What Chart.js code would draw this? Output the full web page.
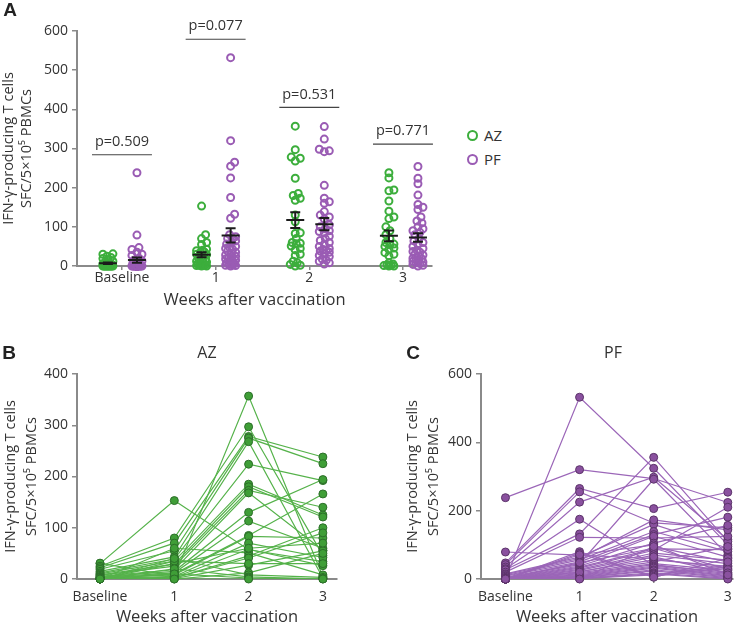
<!DOCTYPE html>
<html>
<head>
<meta charset="utf-8">
<script src="https://cdn.jsdelivr.net/npm/chart.js@4.4.1/dist/chart.umd.min.js"></script>
<style>
  body { margin: 0; background: #fff; width: 744px; height: 627px; position: relative; overflow: hidden; font-family: "Open Sans", sans-serif; color: #333; }
  canvas { position: absolute; }
  .txt { position: absolute; transform: translate(-50%, -50%); white-space: nowrap; line-height: 1; }
  .panel { font-family: "Liberation Sans", Arial, sans-serif; font-weight: bold; font-size: 19px; color: #222; }
  .head { font-size: 16px; }
  .leg { position: absolute; font-size: 15px; line-height: 1; display: flex; align-items: center; }
  .ring { display: inline-block; width: 7px; height: 7px; border: 2.5px solid; border-radius: 50%; margin-right: 6px; }
</style>
</head>
<body>
<canvas id="chartA" width="440" height="310" style="left:0;top:0"></canvas>
<canvas id="chartB" width="370" height="297" style="left:0;top:330px"></canvas>
<canvas id="chartC" width="374" height="297" style="left:370px;top:330px"></canvas>

<div class="txt panel" style="left:10px;top:9px">A</div>
<div class="txt panel" style="left:9px;top:352px">B</div>
<div class="txt panel" style="left:413px;top:352px">C</div>
<div class="txt head" style="left:207px;top:352px">AZ</div>
<div class="txt head" style="left:613px;top:352px">PF</div>

<div class="leg" style="left:467px;top:128px"><span class="ring" style="border-color:#3cae3c"></span>AZ</div>
<div class="leg" style="left:467px;top:152px"><span class="ring" style="border-color:#9a5cb4"></span>PF</div>

<script>
// semaines
const weekLabels = ["Baseline", "1", "2", "3"];

// AZ, un sujet par index
const azBaseline = [30, 31, 25, 22, 19, 15, 12, 10, 8, 7, 5, 4, 3, 2, 2, 1, 1, 0, 0, 0, 0, 0, 0, 0, 0, 0, 0, 0];
const azWeek1 = [153, 5, 80, 70, 55, 43, 39, 35, 29, 25, 18, 15, 12, 10, 8, 5, 3, 60, 2, 2, 1, 0, 30, 35, 40, 20, 10, 0];
const azWeek2 = [57, 357, 297, 278, 275, 268, 224, 185, 180, 173, 168, 130, 113, 85, 83, 70, 58, 51, 45, 41, 27, 12, 60, 30, 8, 4, 2, 0];
const azWeek3 = [34, 5, 46, 238, 225, 2, 192, 125, 121, 140, 56, 194, 60, 166, 80, 42, 26, 8, 100, 90, 55, 50, 70, 30, 3, 0, 1, 0];

// PF
const pfBaseline = [238, 0, 79, 47, 42, 35, 30, 27, 20, 15, 13, 10, 8, 5, 3, 2, 1, 0, 0, 0, 0, 0, 0, 0, 0, 0, 0, 0, 0, 0, 0, 0, 0, 0, 0, 0, 0, 0];
const pfWeek1 = [320, 532, 70, 265, 255, 225, 175, 132, 122, 64, 60, 56, 50, 45, 42, 38, 35, 32, 28, 25, 22, 18, 15, 12, 10, 8, 6, 5, 4, 3, 2, 1, 80, 75, 48, 20, 71, 0];
const pfWeek2 = [294, 324, 60, 206, 164, 298, 40, 356, 120, 160, 173, 139, 130, 292, 125, 105, 88, 84, 76, 70, 56, 50, 45, 42, 38, 35, 32, 27, 24, 18, 15, 12, 8, 5, 90, 65, 100, 95];
const pfWeek3 = [224, 100, 30, 254, 150, 115, 20, 110, 125, 90, 144, 80, 181, 70, 64, 157, 86, 210, 55, 45, 37, 95, 25, 16, 13, 10, 8, 6, 4, 2, 0, 40, 35, 60, 28, 18, 12, 50];

// p-values et hauteur des crochets
const pLabels = ["p=0.509", "p=0.077", "p=0.531", "p=0.771"];
const pBracketY = [284, 579, 405, 311];

const GREEN = "#3cae3c";
const PURPLE = "#9a5cb4";
const AXIS = "#8a8a8a";
const FONT = '"Open Sans", sans-serif';

Chart.defaults.font.family = FONT;
Chart.defaults.color = "#333";
Chart.defaults.animation = false;

const azWeeks = [azBaseline, azWeek1, azWeek2, azWeek3];
const pfWeeks = [pfBaseline, pfWeek1, pfWeek2, pfWeek3];

// petit essaim pour ecarter les cercles (px)
function swarm(values, center, pxX, pxY) {
  const order = values.map((v, i) => i).sort((a, b) => values[a] - values[b]);
  const offsets = [0];
  for (let k = 1; k <= 5; k++) offsets.push(k, -k);
  const placed = [];
  const out = [];
  order.forEach((i) => {
    const yp = values[i] * pxY;
    let best = 0, bestD = -1;
    for (const o of offsets) {
      let d = Infinity;
      placed.forEach((p) => { d = Math.min(d, Math.hypot(o - p[0], yp - p[1])); });
      if (d >= 5) { best = o; bestD = d; break; }
      if (d > bestD) { bestD = d; best = o; }
    }
    placed.push([best, yp]);
    out[i] = { x: center + best / pxX, y: values[i] };
  });
  return out;
}

function meanSem(arr) {
  const n = arr.length;
  const m = arr.reduce((a, b) => a + b, 0) / n;
  const sd = Math.sqrt(arr.reduce((a, b) => a + (b - m) ** 2, 0) / (n - 1));
  return [m, sd / Math.sqrt(n)];
}

const groups = [];
azWeeks.forEach((arr, w) => groups.push({ values: arr, center: w - 0.15 }));
pfWeeks.forEach((arr, w) => groups.push({ values: arr, center: w + 0.16 }));

const errorBars = {
  id: "errorBars",
  afterDatasetsDraw(chart) {
    const { ctx, scales: { x, y } } = chart;
    ctx.save();
    ctx.strokeStyle = "#1b1b1b";
    ctx.lineWidth = 2;
    groups.forEach((g) => {
      const [m, s] = meanSem(g.values);
      const cx = x.getPixelForValue(g.center);
      const ym = y.getPixelForValue(m);
      const yt = y.getPixelForValue(m + s);
      const yb = y.getPixelForValue(Math.max(m - s, 0));
      ctx.beginPath();
      ctx.moveTo(cx - 9, ym); ctx.lineTo(cx + 9, ym);
      ctx.moveTo(cx, yt); ctx.lineTo(cx, yb);
      ctx.moveTo(cx - 5, yt); ctx.lineTo(cx + 5, yt);
      ctx.moveTo(cx - 5, yb); ctx.lineTo(cx + 5, yb);
      ctx.stroke();
    });
    // crochets + p
    ctx.strokeStyle = "#444";
    ctx.lineWidth = 1.2;
    ctx.fillStyle = "#333";
    ctx.font = "14.5px " + FONT;
    ctx.textAlign = "center";
    ctx.textBaseline = "middle";
    pLabels.forEach((lab, w) => {
      const by = y.getPixelForValue(pBracketY[w]);
      ctx.beginPath();
      ctx.moveTo(x.getPixelForValue(w - 0.32), by);
      ctx.lineTo(x.getPixelForValue(w + 0.32), by);
      ctx.stroke();
      ctx.fillText(lab, x.getPixelForValue(w), by - 13);
    });
    ctx.restore();
  }
};

const yTitle = ["IFN-\u03B3-producing T cells", "SFC/5\u00D710\u2075 PBMCs"];

function axes(o) {
  return {
    x: {
      type: "linear", min: o.xMin, max: o.xMax,
      afterBuildTicks: (s) => { s.ticks = [0, 1, 2, 3].map((v) => ({ value: v })); },
      ticks: { callback: (v) => weekLabels[v], autoSkip: false, maxRotation: 0, padding: o.xPad, font: { size: 14 } },
      grid: { drawOnChartArea: false, tickLength: 4, color: AXIS, lineWidth: 1.5 },
      border: { color: AXIS, width: 2 },
      title: { display: true, text: "Weeks after vaccination", font: { size: 16.5 }, padding: 0 },
      afterFit: (s) => { s.height = o.xH; }
    },
    y: {
      min: 0, max: o.yMax,
      ticks: { stepSize: o.yStep, padding: 4, font: { size: 14 } },
      grid: { drawOnChartArea: false, tickLength: 5, color: AXIS, lineWidth: 1.5 },
      border: { color: AXIS, width: 2 },
      title: { display: true, text: yTitle, font: { size: 14.5, lineHeight: o.lh }, padding: { top: o.tPad, bottom: 0 } },
      afterFit: (s) => { s.width = o.yW; }
    }
  };
}

// panneau A
const pxX = 93.7, pxY = 0.3917;
const scatterSets = [];
azWeeks.forEach((arr, w) => scatterSets.push({
  data: swarm(arr, w - 0.15, pxX, pxY), borderColor: GREEN, backgroundColor: "rgba(0,0,0,0)",
  borderWidth: 2, pointRadius: 3.5, clip: false
}));
pfWeeks.forEach((arr, w) => scatterSets.push({
  data: swarm(arr, w + 0.16, pxX, pxY), borderColor: PURPLE, backgroundColor: "rgba(0,0,0,0)",
  borderWidth: 2, pointRadius: 3.5, clip: false
}));

new Chart(document.getElementById("chartA"), {
  type: "scatter",
  data: { datasets: scatterSets },
  options: {
    responsive: false, devicePixelRatio: 1,
    layout: { padding: { top: 31, right: 8, left: 0, bottom: 0 } },
    plugins: { legend: { display: false }, tooltip: { enabled: false } },
    scales: axes({ xMin: -0.48, xMax: 3.31, yMax: 600, yStep: 100, yW: 77, xH: 44, xPad: 0, lh: 1.25, tPad: 0 })
  },
  plugins: [errorBars]
});

// panneaux B et C : un trait par sujet
function pairedChart(id, weeks, lineColor, fill, edge, opts) {
  const sets = [{
    data: weeks.flatMap((arr, w) => arr.map((v) => ({ x: w, y: v }))),
    backgroundColor: fill, borderColor: edge, borderWidth: 1, pointRadius: 4, order: 0, clip: false
  }];
  weeks[0].forEach((_, i) => sets.push({
    data: weeks.map((arr, w) => ({ x: w, y: arr[i] })),
    showLine: true, borderColor: lineColor, borderWidth: 1.2, pointRadius: 0, order: 1
  }));
  new Chart(document.getElementById(id), {
    type: "scatter",
    data: { datasets: sets },
    options: {
      responsive: false, devicePixelRatio: 1,
      layout: { padding: opts.pad },
      plugins: { legend: { display: false }, tooltip: { enabled: false } },
      scales: axes(opts)
    }
  });
}

pairedChart("chartB", azWeeks, "#55b24a", "#3f9e37", "#2c6e29", {
  pad: { top: 44, right: 33, left: 0, bottom: 0 },
  xMin: -0.31, xMax: 3.19, yMax: 400, yStep: 100, yW: 77, xH: 48, xPad: 6, lh: 1.45, tPad: 0
});

pairedChart("chartC", pfWeeks, "#9b66b8", "#8a519f", "#5b3369", {
  pad: { top: 44, right: 11, left: 0, bottom: 0 },
  xMin: -0.33, xMax: 3.07, yMax: 600, yStep: 200, yW: 111, xH: 48, xPad: 6, lh: 1.45, tPad: 32
});
</script>
</body>
</html>
